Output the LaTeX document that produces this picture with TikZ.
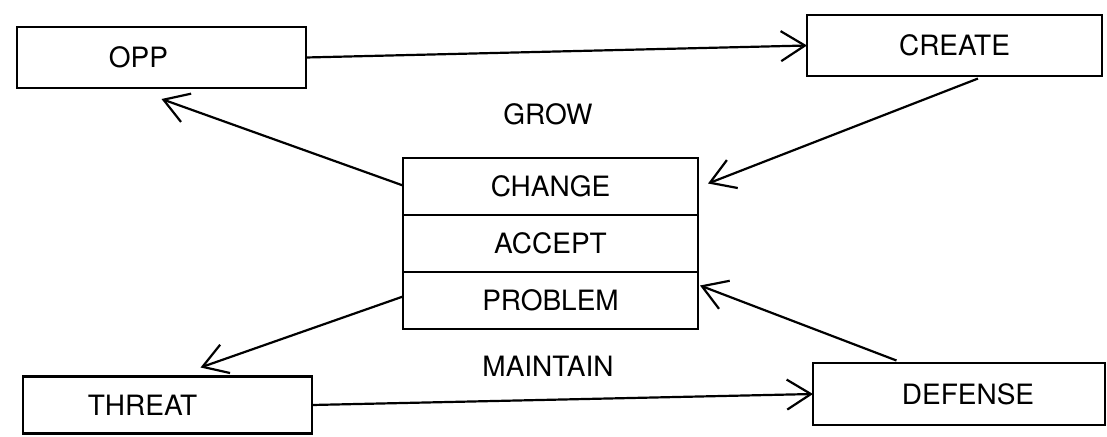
\documentclass[tikz,border=0pt]{standalone}
\usepackage{fontspec}
\setmainfont{TeX Gyre Heros}
\usetikzlibrary{positioning,arrows.meta}

\begin{document}
\begin{tikzpicture}[x=1pt,y=-1pt,line width=2.2pt,
    font=\fontsize{28}{31}\selectfont,
    >={Straight Barb[length=24pt,width=30pt,line width=2.2pt]}]
    \tikzstyle{box}=[draw,rectangle,outer sep=0pt,inner sep=0pt,minimum height=61pt]
    \tikzstyle{stage}=[box,minimum width=295pt,minimum height=57pt]
    \tikzstyle{link}=[->]

    \useasboundingbox (0,0) rectangle (1107,436);

    % Outer boxes
    \node[box,minimum width=289pt,label={[name=opp-text,xshift=-23pt]center:OPP}] (opp) at (161.5,57.5) {};
    \node[box,minimum width=295pt] (create) at (954.5,45.5) {CREATE};
    \node[box,minimum width=289pt,minimum height=57pt,label={[name=threat-text,xshift=-25pt]center:THREAT}] (threat) at (167.5,405) {};
    \node[box,minimum width=292pt,minimum height=62pt,label={[name=defense-text,xshift=9pt]center:DEFENSE}] (defense) at (959,394) {};

    % Middle stack
    \node[stage] (change) at (550.5,186.5) {CHANGE};
    \node[stage,below=0pt of change] (accept) {ACCEPT};
    \node[stage,below=0pt of accept] (problem) {PROBLEM};

    \node (grow) at (548,114) {GROW};
    \node (maintain) at (548,366) {MAINTAIN};

    % Cycle arrows
    \draw[link] (opp.east) -- (create.west);
    \draw[link,shorten <=7pt] ([xshift=30pt]create.south) -- ([xshift=10pt,yshift=3pt]change.east);
    \draw[link] ([yshift=1pt]change.west) -- ([yshift=-11pt]opp.south);
    \draw[link] ([yshift=4pt]problem.west) -- ([xshift=33pt,yshift=9pt]threat.north);
    \draw[link] (threat.east) -- (defense.west);
    \draw[link,shorten <=7pt] ([xshift=-56pt]defense.north) -- ([xshift=2pt,yshift=15pt]problem.east);
\end{tikzpicture}
\end{document}
